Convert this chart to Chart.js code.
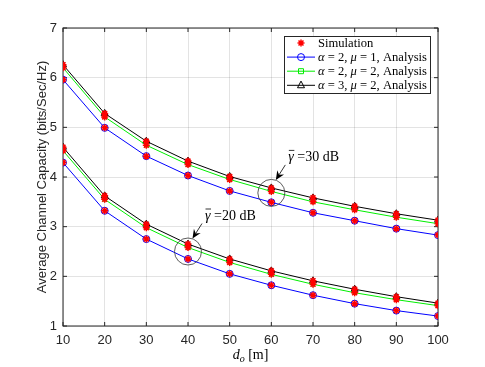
<!DOCTYPE html>
<html>
<head>
<meta charset="utf-8">
<script src="https://cdn.jsdelivr.net/npm/chart.js@4/dist/chart.umd.min.js"></script>
<style>
  html, body { margin: 0; padding: 0; background: #fff; }
  #wrap { width: 485px; height: 367px; }
</style>
</head>
<body>
<div id="wrap"><canvas id="capacity-chart"></canvas></div>
<script>
// distance d_o in metres
const distances = [10, 20, 30, 40, 50, 60, 70, 80, 90, 100];
const xTicks = [10, 20, 30, 40, 50, 60, 70, 80, 90, 100];
const yTicks = [1, 2, 3, 4, 5, 6, 7];

// gamma = 30 dB
const a2m1_30 = [5.96, 4.99, 4.42, 4.03, 3.72, 3.49, 3.28, 3.12, 2.96, 2.83];
const a2m2_30 = [6.20, 5.21, 4.64, 4.25, 3.95, 3.71, 3.50, 3.34, 3.19, 3.06];
const a3m2_30 = [6.26, 5.28, 4.72, 4.32, 4.01, 3.78, 3.58, 3.41, 3.26, 3.13];
// gamma = 20 dB
const a2m1_20 = [4.29, 3.32, 2.75, 2.35, 2.05, 1.82, 1.62, 1.45, 1.31, 1.20];
const a2m2_20 = [4.53, 3.55, 2.98, 2.58, 2.28, 2.04, 1.84, 1.67, 1.53, 1.41];
const a3m2_20 = [4.60, 3.62, 3.05, 2.65, 2.35, 2.11, 1.91, 1.74, 1.59, 1.46];

const toXY = vals => vals.map((v, i) => ({ x: distances[i], y: v }));

const BLUE = '#0000ff';
const GREEN = '#00ee00';
const BLACK = '#000000';
const RED = '#ff0000';
const AXIS = '#262626';

function analysis(vals, color, style, radius) {
	return {
		data: toXY(vals),
		borderColor: color,
		backgroundColor: 'rgba(0,0,0,0)',
		borderWidth: 1,
		pointStyle: style,
		pointRadius: radius,
		pointBorderWidth: 1,
		pointBorderColor: color,
		pointBackgroundColor: 'rgba(0,0,0,0)',
		showLine: true,
		tension: 0
	};
}

// simulation points sit on top of the analysis curves
const simPoints = [].concat(
	toXY(a2m1_30), toXY(a2m2_30), toXY(a3m2_30),
	toXY(a2m1_20), toXY(a2m2_20), toXY(a3m2_20)
);

const legendItems = [
	{ color: RED, style: 'star', line: false, parts: [{ t: 'Simulation' }] },
	{ color: BLUE, style: 'circle', line: true, parts: [{ t: 'α', it: true }, { t: ' = 2, ' }, { t: 'μ', it: true }, { t: ' = 1, Analysis' }] },
	{ color: GREEN, style: 'rect', line: true, parts: [{ t: 'α', it: true }, { t: ' = 2, ' }, { t: 'μ', it: true }, { t: ' = 2, Analysis' }] },
	{ color: BLACK, style: 'triangle', line: true, parts: [{ t: 'α', it: true }, { t: ' = 3, ' }, { t: 'μ', it: true }, { t: ' = 2, Analysis' }] }
];

const SERIF = '"Liberation Serif", "DejaVu Serif", serif';
const SANS = '"Liberation Sans", Arial, sans-serif';

function drawRich(ctx, parts, x, y, size) {
	let cx = x;
	parts.forEach(p => {
		ctx.font = (p.it ? 'italic ' : '') + size + 'px ' + SERIF;
		ctx.fillText(p.t, cx, y);
		cx += ctx.measureText(p.t).width;
	});
	return cx;
}

function drawMarker(ctx, style, x, y, r, color) {
	ctx.save();
	ctx.strokeStyle = color;
	ctx.fillStyle = color;
	ctx.lineWidth = 1;
	ctx.beginPath();
	if (style === 'circle') {
		ctx.arc(x, y, r, 0, Math.PI * 2);
		ctx.stroke();
	} else if (style === 'rect') {
		ctx.rect(x - r, y - r, r * 2, r * 2);
		ctx.stroke();
	} else if (style === 'triangle') {
		ctx.moveTo(x, y - r * 1.2);
		ctx.lineTo(x + r, y + r * 0.7);
		ctx.lineTo(x - r, y + r * 0.7);
		ctx.closePath();
		ctx.stroke();
	} else if (style === 'star') {
		ctx.lineWidth = 1.5;
		for (let k = 0; k < 4; k++) {
			const ang = k * Math.PI / 4;
			ctx.moveTo(x - Math.cos(ang) * r, y - Math.sin(ang) * r);
			ctx.lineTo(x + Math.cos(ang) * r, y + Math.sin(ang) * r);
		}
		ctx.stroke();
	}
	ctx.restore();
}

function drawGammaNote(ctx, cx, cy, label) {
	// circle round the group of curves
	ctx.save();
	ctx.strokeStyle = '#333';
	ctx.lineWidth = 0.8;
	ctx.beginPath();
	ctx.arc(cx, cy, 13.5, 0, Math.PI * 2);
	ctx.stroke();

	// arrow
	const tx = cx + 4.5, ty = cy - 13;
	const sx = cx + 14, sy = cy - 28;
	const ang = Math.atan2(ty - sy, tx - sx);
	ctx.strokeStyle = '#000';
	ctx.beginPath();
	ctx.moveTo(sx, sy);
	ctx.lineTo(tx - Math.cos(ang) * 6, ty - Math.sin(ang) * 6);
	ctx.stroke();
	ctx.fillStyle = '#000';
	ctx.beginPath();
	ctx.moveTo(tx, ty);
	ctx.lineTo(tx - Math.cos(ang) * 9 + Math.sin(ang) * 4, ty - Math.sin(ang) * 9 - Math.cos(ang) * 4);
	ctx.lineTo(tx - Math.cos(ang) * 6, ty - Math.sin(ang) * 6);
	ctx.lineTo(tx - Math.cos(ang) * 9 - Math.sin(ang) * 4, ty - Math.sin(ang) * 9 + Math.cos(ang) * 4);
	ctx.closePath();
	ctx.fill();

	// label with barred gamma
	const lx = cx + 17, ly = cy - 32;
	ctx.fillStyle = '#000';
	ctx.textBaseline = 'alphabetic';
	ctx.font = 'italic 14px ' + SERIF;
	const gw = ctx.measureText('γ').width;
	ctx.fillText('γ', lx, ly);
	ctx.lineWidth = 0.8;
	ctx.beginPath();
	ctx.moveTo(lx + 0.5, ly - 10.5);
	ctx.lineTo(lx + gw + 0.5, ly - 10.5);
	ctx.stroke();
	ctx.font = '14px ' + SERIF;
	ctx.fillText(' =' + label + ' dB', lx + gw, ly);
	ctx.restore();
}

const decorPlugin = {
	id: 'decor',
	beforeDatasetsDraw(chart) {
		const { ctx, chartArea: a, scales: { x, y } } = chart;
		ctx.save();
		ctx.strokeStyle = AXIS;
		ctx.lineWidth = 1;
		ctx.strokeRect(a.left, a.top, a.right - a.left, a.bottom - a.top);
		ctx.beginPath();
		xTicks.forEach(v => {
			const px = x.getPixelForValue(v);
			ctx.moveTo(px, a.bottom); ctx.lineTo(px, a.bottom - 4);
			ctx.moveTo(px, a.top); ctx.lineTo(px, a.top + 4);
		});
		yTicks.forEach(v => {
			const py = y.getPixelForValue(v);
			ctx.moveTo(a.left, py); ctx.lineTo(a.left + 4, py);
			ctx.moveTo(a.right, py); ctx.lineTo(a.right - 4, py);
		});
		ctx.stroke();
		ctx.restore();
	},
	afterDraw(chart) {
		const { ctx, chartArea: a, scales: { x, y } } = chart;
		ctx.save();

		// annotations
		drawGammaNote(ctx, x.getPixelForValue(60), y.getPixelForValue(3.68), '30');
		drawGammaNote(ctx, x.getPixelForValue(40), y.getPixelForValue(2.5), '20');

		// legend box
		const lx = 284.5, ly = 36.5, lw = 146, lh = 57;
		ctx.fillStyle = '#fff';
		ctx.fillRect(lx, ly, lw, lh);
		ctx.strokeStyle = AXIS;
		ctx.lineWidth = 1;
		ctx.strokeRect(lx, ly, lw, lh);
		ctx.textBaseline = 'middle';
		legendItems.forEach((item, i) => {
			const ry = 43 + i * 14.1;
			if (item.line) {
				ctx.strokeStyle = item.color;
				ctx.lineWidth = 1;
				ctx.beginPath();
				ctx.moveTo(287, ry); ctx.lineTo(315, ry);
				ctx.stroke();
			}
			const r = item.style === 'rect' ? 2.5 : 3.5;
			drawMarker(ctx, item.style, 301, ry, r, item.color);
			ctx.fillStyle = '#000';
			drawRich(ctx, item.parts, 318, ry + 0.5, 12.6);
		});

		// y axis title
		ctx.fillStyle = AXIS;
		ctx.font = '13px ' + SANS;
		ctx.textAlign = 'center';
		ctx.textBaseline = 'middle';
		ctx.translate(42, (a.top + a.bottom) / 2);
		ctx.rotate(-Math.PI / 2);
		ctx.fillText('Average Channel Capacity (bits/Sec/Hz)', 0, 0);
		ctx.setTransform(1, 0, 0, 1, 0, 0);

		// x axis title: d_o [m]
		ctx.textAlign = 'left';
		ctx.textBaseline = 'alphabetic';
		ctx.fillStyle = '#000';
		const cx = (a.left + a.right) / 2;
		ctx.font = 'italic 14px ' + SERIF;
		const dw = ctx.measureText('d').width;
		ctx.font = 'italic 10px ' + SERIF;
		const ow = ctx.measureText('o').width;
		ctx.font = '14px ' + SERIF;
		const mw = ctx.measureText(' [m]').width;
		let sx = cx - (dw + ow + mw) / 2;
		const base = 359;
		ctx.font = 'italic 14px ' + SERIF;
		ctx.fillText('d', sx, base);
		ctx.font = 'italic 10px ' + SERIF;
		ctx.fillText('o', sx + dw, base + 3);
		ctx.font = '14px ' + SERIF;
		ctx.fillText(' [m]', sx + dw + ow, base);
		ctx.restore();
	}
};

const ctx = document.getElementById('capacity-chart').getContext('2d');
new Chart(ctx, {
	type: 'scatter',
	data: {
		datasets: [
			{
				data: simPoints,
				showLine: false,
				pointStyle: 'star',
				pointRadius: 3.5,
				pointBorderWidth: 1.5,
				pointBorderColor: RED,
				pointBackgroundColor: RED
			},
			analysis(a2m1_30, BLUE, 'circle', 3.5),
			analysis(a2m2_30, GREEN, 'rect', 2.5),
			analysis(a3m2_30, BLACK, 'triangle', 4),
			analysis(a2m1_20, BLUE, 'circle', 3.5),
			analysis(a2m2_20, GREEN, 'rect', 2.5),
			analysis(a3m2_20, BLACK, 'triangle', 4)
		]
	},
	options: {
		responsive: true,
		maintainAspectRatio: false,
		animation: false,
		layout: {
			padding: { left: 0, right: 47, top: 28, bottom: 0 }
		},
		plugins: {
			legend: { display: false },
			tooltip: { enabled: false },
			title: { display: false }
		},
		scales: {
			x: {
				type: 'linear',
				min: 10,
				max: 100,
				afterFit: scale => { scale.height = 41; },
				afterBuildTicks: scale => { scale.ticks = xTicks.map(v => ({ value: v })); },
				border: { display: false },
				grid: { color: 'rgba(38,38,38,0.13)', drawTicks: false },
				ticks: {
					color: AXIS,
					padding: 7,
					font: { family: SANS, size: 13 }
				}
			},
			y: {
				min: 1,
				max: 7,
				afterFit: scale => { scale.width = 63; },
				afterBuildTicks: scale => { scale.ticks = yTicks.map(v => ({ value: v })); },
				border: { display: false },
				grid: { color: 'rgba(38,38,38,0.13)', drawTicks: false },
				ticks: {
					color: AXIS,
					padding: 6,
					font: { family: SANS, size: 13 }
				}
			}
		}
	},
	plugins: [decorPlugin]
});
</script>
</body>
</html>
